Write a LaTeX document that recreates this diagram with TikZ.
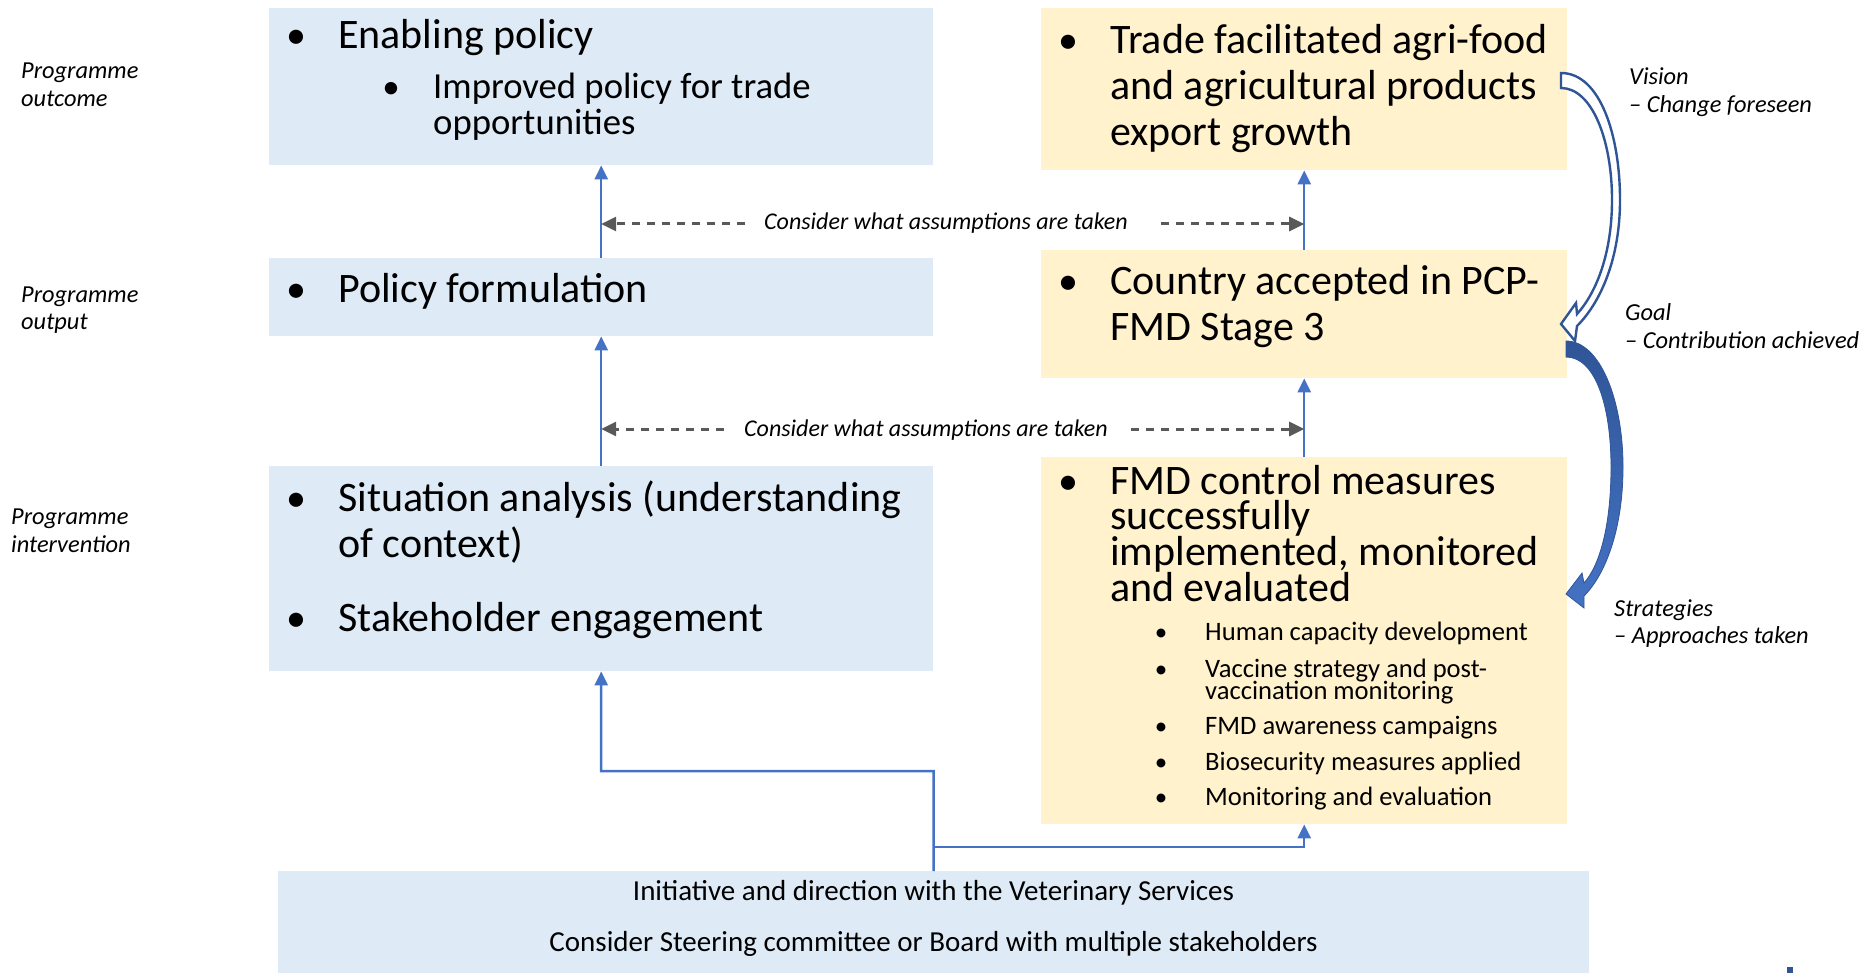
\documentclass[tikz,border=0pt]{standalone}
\usepackage{fontspec}
\setmainfont{Carlito}
\usetikzlibrary{arrows.meta,calc}
\definecolor{boxblue}{HTML}{DEEBF7}
\definecolor{boxyellow}{HTML}{FFF2CC}
\definecolor{lineblue}{HTML}{4472C4}
\definecolor{darkblue}{HTML}{2F5597}
\definecolor{dashgray}{HTML}{595959}
\begin{document}
\begin{tikzpicture}[x=1pt,y=1pt,
  bluebox/.style={fill=boxblue, draw=none, anchor=north west, inner sep=0pt},
  yellowbox/.style={fill=boxyellow, draw=none, anchor=north west, inner sep=0pt},
  bigtxt/.style={font=\fontsize{42}{45}\selectfont, anchor=base west, inner sep=0pt},
  bigdot/.style={font=\fontsize{40}{45}\selectfont, anchor=base, inner sep=0pt},
  midtxt/.style={font=\fontsize{36.7}{38}\selectfont, anchor=base west, inner sep=0pt},
  middot/.style={font=\fontsize{35}{38}\selectfont, anchor=base, inner sep=0pt},
  smalltxt/.style={font=\fontsize{26.6}{28}\selectfont, anchor=base west, inner sep=0pt},
  smalldot/.style={font=\fontsize{25}{28}\selectfont, anchor=base, inner sep=0pt},
  lbl/.style={font=\fontsize{24.4}{26}\selectfont\itshape, anchor=base west, inner sep=0pt},
  asm/.style={font=\fontsize{24}{26}\selectfont\itshape, anchor=base, inner sep=0pt},
  bottxt/.style={font=\fontsize{29}{30}\selectfont, anchor=base, inner sep=0pt},
  bluearrow/.style={draw=lineblue, line width=2.5pt, -{Triangle[length=14pt,width=13pt]}},
  dasharrow/.style={draw=dashgray, line width=3pt, dash pattern=on 8pt off 7pt, -{Triangle[length=15pt,width=14pt]}},
]
\useasboundingbox (0,0) rectangle (1867,-973);

% boxes
\node[bluebox, minimum width=664pt, minimum height=157pt] (A) at (269,-8) {};
\node[bluebox, minimum width=664pt, minimum height=78pt] (B) at (269,-258) {};
\node[bluebox, minimum width=664pt, minimum height=205pt] (C) at (269,-466) {};
\node[yellowbox, minimum width=526pt, minimum height=162pt] (D) at (1041,-8) {};
\node[yellowbox, minimum width=526pt, minimum height=128pt] (E) at (1041,-250) {};
\node[yellowbox, minimum width=526pt, minimum height=367pt] (F) at (1041,-457) {};
\node[bluebox, minimum width=1311pt, minimum height=102pt] (G) at (278,-871) {};

% box A text
\node[bigdot] (a0) at (296,-49) {•};
\node[bigtxt] (a1) at (338,-49) {Enabling policy};
\node[middot] (a2) at (391,-99) {•};
\node[midtxt] (a3) at (433,-99) {Improved policy for trade};
\node[midtxt] (a4) at (433,-135) {opportunities};

% box B text
\node[bigdot] (b0) at (296,-303) {•};
\node[bigtxt] (b1) at (338,-303) {Policy formulation};

% box C text
\node[bigdot] (c0) at (296,-511) {•};
\node[bigtxt] (c1) at (338,-511) {Situation analysis (understanding};
\node[bigtxt] (c2) at (338,-557) {of context)};
\node[bigdot] (c3) at (296,-631) {•};
\node[bigtxt] (c4) at (338,-631) {Stakeholder engagement};

% box D text
\node[bigdot] (d0) at (1068,-54) {•};
\node[bigtxt] (d1) at (1110,-54) {Trade facilitated agri-food};
\node[bigtxt] (d2) at (1110,-100) {and agricultural products};
\node[bigtxt] (d3) at (1110,-146) {export growth};

% box E text
\node[bigdot] (e0) at (1068,-295) {•};
\node[bigtxt] (e1) at (1110,-295) {Country accepted in PCP-};
\node[bigtxt] (e2) at (1110,-341) {FMD Stage 3};

% box F text
\node[bigdot] (f0) at (1068,-494) {•};
\node[bigtxt] (f1) at (1110,-494) {FMD control measures};
\node[bigtxt] (f2) at (1110,-529) {successfully};
\node[bigtxt] (f3) at (1110,-565) {implemented, monitored};
\node[bigtxt] (f4) at (1110,-601) {and evaluated};
\node[smalldot] (g0) at (1161,-640) {•};
\node[smalltxt] (g1) at (1205,-640) {Human capacity development};
\node[smalldot] (g2) at (1161,-677) {•};
\node[smalltxt] (g3) at (1205,-677) {Vaccine strategy and post-};
\node[smalltxt] (g4) at (1205,-699) {vaccination monitoring};
\node[smalldot] (g5) at (1161,-734) {•};
\node[smalltxt] (g6) at (1205,-734) {FMD awareness campaigns};
\node[smalldot] (g7) at (1161,-770) {•};
\node[smalltxt] (g8) at (1205,-770) {Biosecurity measures applied};
\node[smalldot] (g9) at (1161,-805) {•};
\node[smalltxt] (g10) at (1205,-805) {Monitoring and evaluation};

% bottom box text
\node[bottxt] (h1) at (933.5,-900) {Initiative and direction with the Veterinary Services};
\node[bottxt] (h2) at (933.5,-951) {Consider Steering committee or Board with multiple stakeholders};

% left labels
\node[lbl] (l1) at (21,-79) {Programme};
\node[lbl] (l2) at (21,-107) {outcome};
\node[lbl] (l3) at (21,-302) {Programme};
\node[lbl] (l4) at (21,-329) {output};
\node[lbl] (l5) at (11,-524) {Programme};
\node[lbl] (l6) at (11,-552) {intervention};

% right labels
\node[lbl] (r1) at (1629,-85) {Vision};
\node[lbl] (r2) at (1629,-113) {– Change foreseen};
\node[lbl] (r3) at (1625,-320) {Goal};
\node[lbl] (r4) at (1625,-348) {– Contribution achieved};
\node[lbl] (r5) at (1614,-616) {Strategies};
\node[lbl] (r6) at (1614,-643) {– Approaches taken};

% assumption labels
\node[asm] (t1) at (946,-230) {Consider what assumptions are taken};
\node[asm] (t2) at (926,-436) {Consider what assumptions are taken};

% blue connectors
\draw[bluearrow] (B.north) -- (A.south);
\draw[bluearrow] (C.north) -- (B.south);
\draw[bluearrow] (E.north) -- (D.south);
\draw[bluearrow] (F.north) -- (E.south);
\coordinate (j1) at (933.5,-771);
\coordinate (j2) at (933.5,-847);
\draw[bluearrow] (G.north) -- (j1) -| (C.south);
\draw[bluearrow] (j2) -| (F.south);

% dashed assumption arrows
\coordinate (d1a) at (745,-224);
\coordinate (d1b) at (1161,-224);
\coordinate (d2a) at (724,-429);
\coordinate (d2b) at (1131,-429);
\draw[dasharrow] (d1a) -- (d1a -| A.south);
\draw[dasharrow] (d1b) -- (d1b -| D.south);
\draw[dasharrow] (d2a) -- (d2a -| B.south);
\draw[dasharrow] (d2b) -- (d2b -| E.south);

% curved hollow arrow (vision -> goal)
\draw[darkblue, line width=2.4pt, fill=white, line join=miter]
  (1561,-73) .. controls (1600,-73) and (1620,-135) .. (1620,-200)
  .. controls (1620,-258) and (1601,-302) .. (1577,-326)
  -- (1575,-341) -- (1561,-324) -- (1576,-303) -- (1577,-314)
  .. controls (1597,-292) and (1612,-252) .. (1612,-200)
  .. controls (1612,-140) and (1592,-88) .. (1561,-88) -- cycle;

% curved filled arrow (goal -> strategies)
\path[top color=darkblue, bottom color=lineblue, draw=darkblue, line width=0.8pt]
  (1566,-341) .. controls (1600,-341) and (1623,-400) .. (1623,-467)
  .. controls (1623,-530) and (1605,-575) .. (1584,-596)
  -- (1584,-608) -- (1566,-594) -- (1582,-573) -- (1584,-583)
  .. controls (1600,-565) and (1611,-525) .. (1611,-467)
  .. controls (1611,-405) and (1595,-357) .. (1566,-357) -- cycle;

% small fragment at bottom right
\fill[darkblue] (1787,-967) rectangle (1793,-973);
\end{tikzpicture}
\end{document}
